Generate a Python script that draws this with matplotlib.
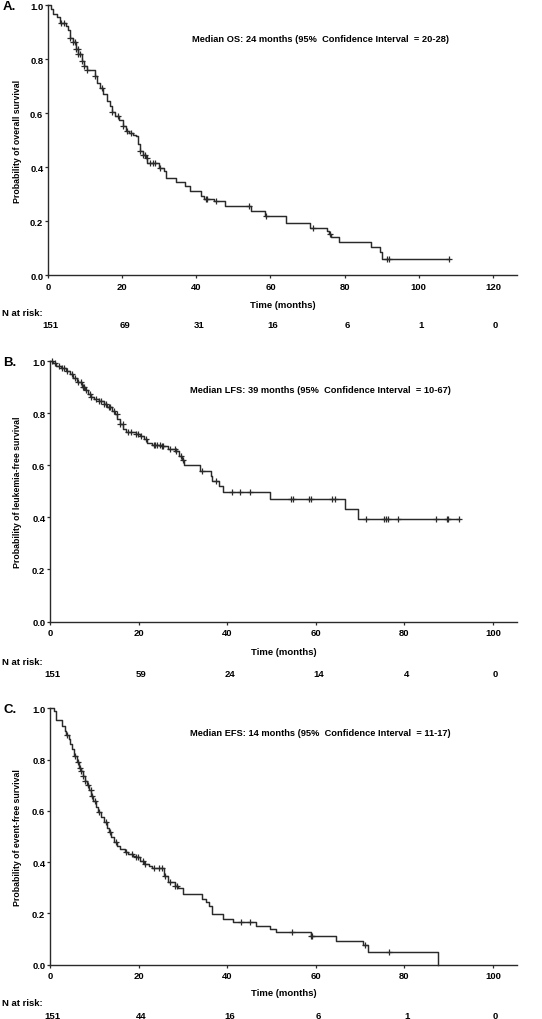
import numpy as np
import matplotlib
matplotlib.use("Agg")
import matplotlib.pyplot as plt

plt.rcParams['font.family'] = ['Liberation Sans', 'DejaVu Sans']
plt.rcParams['font.weight'] = 'bold'

# ---------------- data ----------------
# Panel A: overall survival (event times, survival after each step)
os_times = [0, 0.8, 1.3, 2.5, 3.2, 4.8, 5.4, 6.0, 6.7, 7.5, 8.2, 9.1, 9.7, 10.6,
            12.6, 13.2, 14.0, 14.9, 15.8, 16.6, 17.2, 18.1, 19.2, 20.1, 21.0,
            21.8, 22.9, 23.8, 24.2, 24.7, 25.6, 26.4, 26.8, 30.0, 31.4, 31.9,
            34.4, 37.0, 38.3, 41.3, 42.2, 44.8, 47.8, 54.7, 58.6, 64.2, 70.7,
            75.3, 75.7, 76.2, 78.5, 87.2, 89.6, 90.2]
os_surv = [1.0, 0.986, 0.968, 0.956, 0.934, 0.925, 0.91, 0.878, 0.863, 0.84,
           0.82, 0.795, 0.776, 0.761, 0.739, 0.714, 0.692, 0.671, 0.647, 0.628,
           0.606, 0.589, 0.576, 0.554, 0.535, 0.526, 0.52, 0.515, 0.486, 0.461,
           0.445, 0.433, 0.416, 0.397, 0.388, 0.362, 0.344, 0.329, 0.313, 0.295,
           0.283, 0.276, 0.256, 0.239, 0.221, 0.193, 0.177, 0.165, 0.153, 0.143,
           0.122, 0.104, 0.085, 0.060]
os_end = 108.2
os_censor = [3.4, 4.2, 6.0, 6.7, 7.4, 7.6, 8.0, 8.2, 8.6, 9.3, 9.7, 10.6, 12.7,
             14.6, 17.2, 18.8, 20.1, 21.4, 22.3, 24.9, 25.7, 26.2, 26.6, 27.5,
             28.3, 28.8, 30.1, 42.6, 43.0, 45.2, 54.3, 58.9, 71.6, 76.1, 91.5,
             92.1, 108.2]
os_risk_t = [0, 20, 40, 60, 80, 100, 120]
os_risk_n = [151, 69, 31, 16, 6, 1, 0]

# Panel B: leukemia-free survival
lfs_times = [0, 0.7, 1.4, 2.5, 3.5, 4.6, 5.3, 6.1, 7.2, 7.9, 8.6, 9.2, 10.0,
             11.1, 12.2, 12.9, 14.0, 14.7, 15.2, 15.8, 16.5, 17.1, 19.4, 20.2,
             21.2, 22.0, 23.0, 25.2, 26.6, 28.5, 29.2, 29.9, 30.3, 33.9, 36.3,
             36.6, 38.2, 39.0, 49.6, 66.6, 69.6]
lfs_surv = [1.0, 0.992, 0.98, 0.973, 0.963, 0.95, 0.935, 0.918, 0.901, 0.888,
            0.873, 0.86, 0.854, 0.845, 0.835, 0.824, 0.809, 0.796, 0.777, 0.758,
            0.739, 0.726, 0.72, 0.713, 0.70, 0.687, 0.678, 0.674, 0.662, 0.656,
            0.636, 0.619, 0.60, 0.578, 0.558, 0.54, 0.52, 0.497, 0.472, 0.433,
            0.395]
lfs_end = 92.4
lfs_censor = [0.5, 1.2, 1.95, 2.8, 3.2, 3.9, 5.0, 5.7, 6.4, 7.0, 7.5, 7.7, 8.2,
              8.96, 9.3, 10.4, 11.1, 11.5, 12.2, 12.6, 13.3, 13.6, 14.4, 15.1,
              15.8, 16.4, 17.6, 18.3, 19.4, 19.8, 20.5, 21.6, 23.4, 23.8, 24.1,
              24.9, 25.2, 25.6, 27.0, 28.1, 28.5, 29.6, 29.95, 34.4, 37.4, 41.1,
              42.9, 45.1, 54.3, 54.8, 58.4, 58.9, 63.7, 64.4, 71.4, 75.3, 75.8,
              76.2, 78.5, 87.2, 89.5, 89.9, 92.4]
lfs_risk_t = [0, 20, 40, 60, 80, 100]
lfs_risk_n = [151, 59, 24, 14, 4, 0]

# Panel C: event-free survival
efs_times = [0, 0.93, 1.29, 2.75, 3.3, 3.6, 4.2, 4.6, 5.0, 5.4, 6.0, 6.5, 7.0,
             7.5, 7.8, 8.4, 8.9, 9.3, 9.8, 10.4, 10.9, 11.5, 12.2, 12.8, 13.3,
             13.8, 14.4, 15.1, 15.8, 16.9, 17.7, 18.8, 19.5, 20.2, 21.3, 22.4,
             23.1, 25.7, 26.7, 28.2, 28.9, 30.0, 34.2, 35.1, 35.8, 36.6, 39.1,
             41.3, 46.4, 49.7, 50.9, 58.8, 64.6, 70.7, 71.7, 87.5]
efs_surv = [1.0, 0.991, 0.956, 0.932, 0.912, 0.895, 0.88, 0.86, 0.841, 0.815,
            0.789, 0.769, 0.756, 0.737, 0.717, 0.701, 0.683, 0.659, 0.64, 0.614,
            0.594, 0.575, 0.555, 0.535, 0.516, 0.497, 0.477, 0.464, 0.451,
            0.441, 0.432, 0.425, 0.419, 0.406, 0.393, 0.384, 0.376, 0.345,
            0.321, 0.308, 0.298, 0.276, 0.256, 0.243, 0.228, 0.198, 0.178,
            0.165, 0.152, 0.139, 0.126, 0.113, 0.093, 0.076, 0.048, 0.0]
efs_end = 87.5
efs_censor = [3.84, 5.66, 6.24, 6.75, 7.1, 7.5, 8.0, 8.6, 9.15, 9.44, 10.2, 11.1,
              12.6, 13.5, 15.0, 17.2, 18.6, 19.5, 19.8, 20.9, 21.5, 23.5, 24.5,
              25.3, 26.0, 27.1, 28.2, 28.6, 43.1, 45.2, 54.6, 58.8, 59.1, 71.1,
              76.4]
efs_risk_t = [0, 20, 40, 60, 80, 100]
efs_risk_n = [151, 44, 16, 6, 1, 0]

# ---------------- layout (pixels) ----------------
W, H = 542, 1020
fig = plt.figure(figsize=(W / 100, H / 100), dpi=100)
fig.patch.set_facecolor('white')

LINE = '#2a2a2a'


def fx(px):
    return px / W


def fy(py):
    return 1 - py / H


panels = [
    dict(box=(48.0, 6.3, 517.0, 276.3), xmax=126.5, xticks=[0, 20, 40, 60, 80, 100, 120],
         times=os_times, surv=os_surv, end=os_end, censor=os_censor,
         ylabel='Probability of overall survival', letter='A.',
         note='Median OS: 24 months (95%  Confidence Interval  = 20-28)', note_y=39.3,
         risk_t=os_risk_t, risk_n=os_risk_n, tlab_y=305, nrisk_y=313, num_y=326),
    dict(box=(50.0, 362.0, 517.0, 622.5), xmax=105.4, xticks=[0, 20, 40, 60, 80, 100],
         times=lfs_times, surv=lfs_surv, end=lfs_end, censor=lfs_censor,
         ylabel='Probability of leukemia-free survival', letter='B.',
         note='Median LFS: 39 months (95%  Confidence Interval  = 10-67)', note_y=390.7,
         risk_t=lfs_risk_t, risk_n=lfs_risk_n, tlab_y=652.7, nrisk_y=662.3, num_y=675),
    dict(box=(50.0, 709.3, 517.0, 965.7), xmax=105.4, xticks=[0, 20, 40, 60, 80, 100],
         times=efs_times, surv=efs_surv, end=efs_end, censor=efs_censor,
         ylabel='Probability of event-free survival', letter='C.',
         note='Median EFS: 14 months (95%  Confidence Interval  = 11-17)', note_y=733.3,
         risk_t=efs_risk_t, risk_n=efs_risk_n, tlab_y=994, nrisk_y=1003.3, num_y=1016.7),
]

FS = 6.8
for p in panels:
    l, t, r, b = p['box']
    ax = fig.add_axes([fx(l), fy(b), (r - l) / W, (b - t) / H])
    times = np.array(p['times'], dtype=float)
    surv = np.array(p['surv'], dtype=float)
    xs = np.r_[times, p['end']]
    ys = np.r_[surv, surv[-1]]
    ax.step(xs, ys, where='post', color=LINE, lw=1.05, clip_on=False, zorder=3)
    cens = np.array(p['censor'], dtype=float)
    idx = np.searchsorted(times, cens, side='right') - 1
    ax.plot(cens, surv[idx], linestyle='none', marker='+', ms=4.5, mew=0.9,
            color=LINE, clip_on=False, zorder=4)

    ax.set_xlim(0, p['xmax'])
    ax.set_ylim(0, 1.0)
    ax.set_xticks(p['xticks'])
    ax.set_yticks([0.0, 0.2, 0.4, 0.6, 0.8, 1.0])
    ax.set_yticklabels(['%.1f' % v for v in [0.0, 0.2, 0.4, 0.6, 0.8, 1.0]])
    for s in ['top', 'right']:
        ax.spines[s].set_visible(False)
    for s in ['left', 'bottom']:
        ax.spines[s].set_color(LINE)
        ax.spines[s].set_linewidth(1.0)
    ax.tick_params(axis='both', direction='out', length=2.2, width=0.9, color=LINE,
                   labelsize=FS, labelcolor='black')
    ax.tick_params(axis='x', pad=2.5)
    ax.tick_params(axis='y', pad=1.2)
    for lab in ax.get_xticklabels() + ax.get_yticklabels():
        lab.set_fontweight('bold')

    ax.set_ylabel(p['ylabel'], fontsize=6.3, fontweight='bold')
    ax.yaxis.set_label_coords(-(l - 22) / (r - l), 0.5)

    cx = (l + r) / 2
    fig.text(fx(cx), fy(p['tlab_y']), 'Time (months)', ha='center', va='center',
             fontsize=FS, fontweight='bold')
    fig.text(fx(320), fy(p['note_y']), p['note'], ha='center', va='center',
             fontsize=6.65, fontweight='bold')
    fig.text(fx(3), fy(t + 1), p['letter'], ha='left', va='center', fontsize=9.5,
             fontweight='bold')
    fig.text(fx(2.5), fy(p['nrisk_y']), 'N at risk:', ha='left', va='center',
             fontsize=FS, fontweight='bold')
    scale = (r - l) / p['xmax']
    for tt, nn in zip(p['risk_t'], p['risk_n']):
        fig.text(fx(l + tt * scale + 2.5), fy(p['num_y']), str(nn),
                 ha='center', va='center', fontsize=FS, fontweight='bold')

fig.savefig('out.png', dpi=100, facecolor='white')
